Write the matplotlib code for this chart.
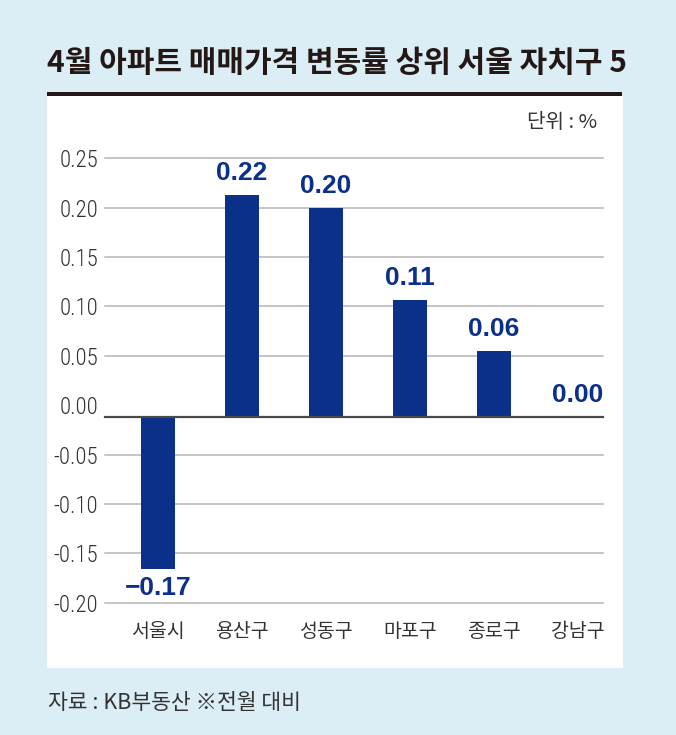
import matplotlib
matplotlib.use('Agg')
import matplotlib.pyplot as plt
from matplotlib.patches import Rectangle

districts = ['서울시', '용산구', '성동구', '마포구', '종로구', '강남구']
bar_values = [-0.154, 0.225, 0.212, 0.119, 0.067, 0.0]
value_labels = ['\u22120.17', '0.22', '0.20', '0.11', '0.06', '0.00']
yticks = [0.25, 0.20, 0.15, 0.10, 0.05, 0.00, -0.05, -0.10, -0.15, -0.20]
ytick_labels = ['0.25', '0.20', '0.15', '0.10', '0.05', '0.00',
                '-0.05', '-0.10', '-0.15', '-0.20']

title = '4월 아파트 매매가격 변동률 상위 서울 자치구 5'
unit = '단위 : %'
source = '자료 : KB부동산 ※전월 대비'

kr = ['Noto Sans CJK KR', 'DejaVu Sans']
narrow = ['Roboto Condensed', 'Liberation Sans Narrow', 'Liberation Sans', 'DejaVu Sans']
bar_color = '#0b308a'
bg = '#dceef5'
base = -0.012   # the zero line sits a bit under the 0.00 tick in the original

fig = plt.figure(figsize=(6.76, 7.35), dpi=100, facecolor=bg)

# white panel + black rule under the title
fig.add_artist(Rectangle((47/676, (735-668)/735), 576/676, (668-96)/735,
                         transform=fig.transFigure, facecolor='white', edgecolor='none', zorder=0))
fig.add_artist(Rectangle((47/676, (735-96)/735), 575/676, 4/735,
                         transform=fig.transFigure, facecolor='#231815', edgecolor='none', zorder=1))

fig.text(47/676, (735-63)/735, title, family=kr, fontsize=21.6, fontweight='black',
         color='#231815', ha='left', va='center')
fig.text(597/676, (735-122)/735, unit, family=kr, fontsize=14.5, fontweight='light',
         color='#333333', ha='right', va='center')
fig.text(48/676, (735-703)/735, source, family=kr, fontsize=15.5, fontweight='light',
         color='#333333', ha='left', va='center')

ax = fig.add_axes([105/676, (735-602.7)/735, 498/676, 444.4/735])
ax.set_facecolor('none')
x = list(range(len(districts)))
ax.bar(x, bar_values, bottom=base, width=0.41, color=bar_color, zorder=3)

for i, v in enumerate(bar_values):
    if v < 0:
        ax.annotate(value_labels[i], (x[i], base + v), xytext=(0, -5), textcoords='offset points',
                    ha='center', va='top', fontsize=19, fontweight='bold',
                    family='Liberation Sans', color=bar_color)
    else:
        ax.annotate(value_labels[i], (x[i], base + v), xytext=(0, 7), textcoords='offset points',
                    ha='center', va='bottom', fontsize=19, fontweight='bold',
                    family='Liberation Sans', color=bar_color)

for t in yticks:
    if t != 0:
        ax.axhline(t, color='#b5b5b5', linewidth=1.1, zorder=1, clip_on=False)
ax.axhline(base, color='#4a4a4a', linewidth=1.6, zorder=4, clip_on=False)

ax.set_xlim(-0.63, 5.3)
ax.set_ylim(-0.20, 0.25)
ax.set_yticks(yticks)
ax.set_yticklabels(ytick_labels, family=narrow, fontsize=16.5, fontweight='light', color='#333333')
ax.set_xticks(x)
ax.set_xticklabels(districts, family=kr, fontsize=14, fontweight='light', color='#333333')
ax.tick_params(axis='y', length=0, pad=5)
ax.tick_params(axis='x', length=0, pad=13)
for s in ax.spines.values():
    s.set_visible(False)

fig.savefig('out.png', dpi=100, facecolor=bg)
